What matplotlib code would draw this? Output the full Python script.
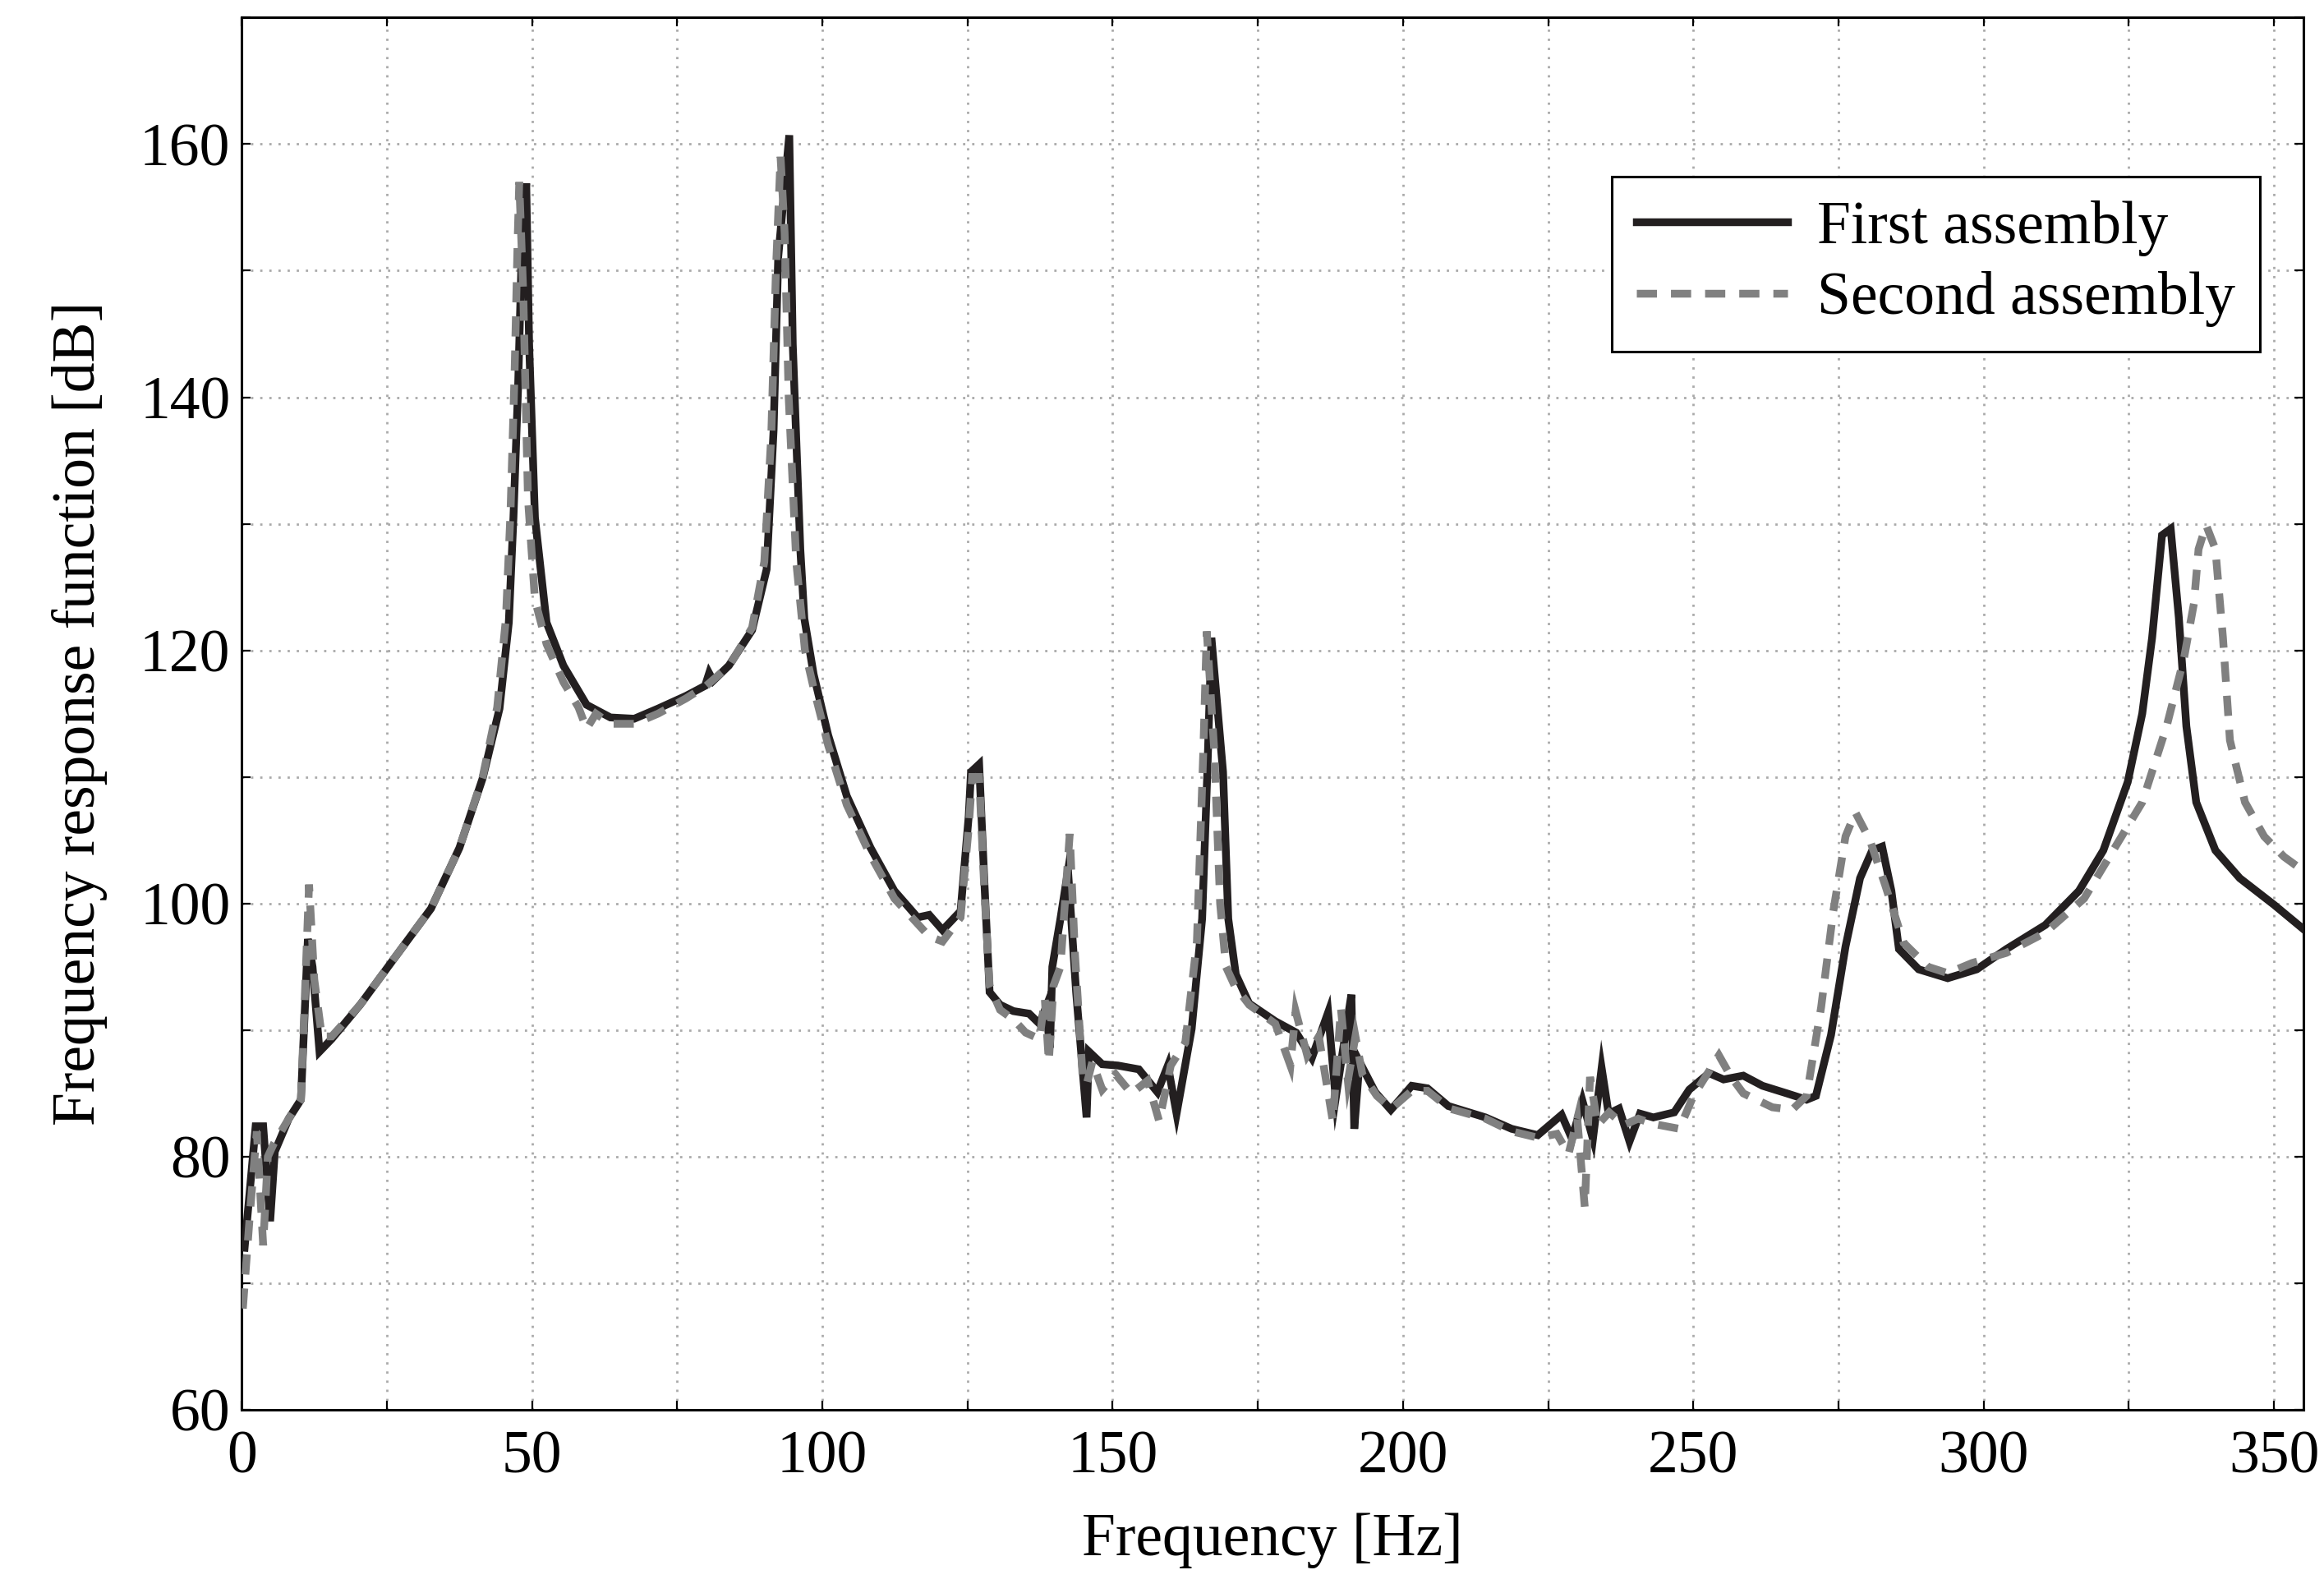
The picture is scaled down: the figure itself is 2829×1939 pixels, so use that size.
import matplotlib.pyplot as plt
from matplotlib.ticker import MultipleLocator

# Curva della prima configurazione di montaggio
freq_first = [0.5, 2.4, 3.7, 4.9, 5.7, 8.1, 10.2, 11.4, 12.2, 13.4, 15.5, 20.4, 26.0, 32.6,
              37.5, 41.5, 44.4, 46.0, 46.8, 47.6, 48.2, 49.0, 49.5, 50.5, 52.5, 55.4, 59.4,
              63.5, 67.6, 71.7, 76.5, 79.8, 80.5, 81.2, 83.9, 87.9, 90.4, 91.6, 92.4, 94.3,
              94.9, 96.2, 96.9, 98.5, 101.0, 104.2, 108.3, 112.4, 116.4, 118.4, 120.7,
              123.8, 125.2, 125.6, 127.0, 127.9, 128.8, 130.6, 132.9, 135.6, 137.4, 138.5,
              139.2, 139.6, 141.0, 142.3, 143.7, 145.5, 145.9, 148.2, 150.9, 154.5, 157.7,
              159.5, 161.0, 163.6, 165.4, 166.3, 167.0, 169.0, 169.9, 171.2, 173.5, 178.0,
              181.6, 184.3, 187.1, 188.4, 190.2, 191.1, 191.6, 192.5, 195.2, 197.9, 201.5,
              204.2, 207.8, 214.2, 218.7, 223.2, 227.3, 229.1, 230.9, 232.7, 234.2, 235.4,
              237.2, 239.0, 240.8, 243.1, 246.7, 249.3, 252.7, 255.2, 258.6, 261.9, 266.1,
              269.5, 271.1, 273.7, 276.2, 278.7, 280.8, 282.5, 284.1, 285.4, 288.8, 293.8,
              298.8, 303.9, 310.6, 316.4, 320.6, 324.8, 327.3, 329.0, 330.7, 332.2, 333.6,
              334.9, 336.6, 339.9, 344.1, 350.0, 355.0]
frf_first = [72.8, 82.4, 82.4, 74.9, 80.4, 83.0, 84.5, 97.2, 95.0, 88.3, 89.3, 92.0, 95.5, 99.6,
             104.4, 109.9, 115.4, 122.2, 130.5, 140.8, 151.0, 156.9, 144.2, 130.5, 122.2,
             118.8, 115.7, 114.7, 114.6, 115.4, 116.4, 117.2, 118.2, 117.6, 118.8, 121.6,
             126.4, 137.4, 151.1, 160.7, 144.2, 128.0, 122.5, 118.1, 113.3, 108.5, 104.4,
             101.0, 98.9, 99.1, 97.9, 99.4, 106.9, 110.4, 111.0, 101.7, 93.0, 92.0, 91.5,
             91.3, 90.5, 91.8, 88.6, 95.0, 98.8, 102.6, 93.0, 83.1, 88.3, 87.3, 87.2, 86.9,
             85.1, 87.2, 83.4, 90.1, 98.8, 110.4, 121.0, 110.4, 98.8, 94.4, 92.1, 90.7, 89.8,
             87.8, 91.4, 84.6, 90.1, 92.8, 82.2, 87.5, 85.1, 83.7, 85.6, 85.4, 84.0, 83.1,
             82.2, 81.7, 83.3, 81.4, 84.4, 81.4, 87.0, 83.4, 83.8, 81.2, 83.4, 83.1, 83.5,
             85.3, 86.6, 86.1, 86.4, 85.6, 85.0, 84.5, 84.8, 89.6, 96.6, 102.0, 104.2, 104.5,
             101.0, 96.4, 94.8, 94.1, 94.8, 96.4, 98.3, 101.0, 104.2, 109.6, 115.0, 121.0,
             129.1, 129.6, 122.6, 114.0, 108.0, 104.2, 102.0, 99.9, 98.0]

# Curva della seconda configurazione di montaggio
freq_second = [0.2, 1.5, 2.6, 3.7, 4.5, 5.5, 8.1, 10.2, 11.6, 12.5, 13.8, 15.5, 20.4, 26.0,
               32.6, 37.5, 41.5, 44.0, 45.5, 46.3, 47.0, 47.5, 47.8, 48.5, 49.3, 50.5, 52.5,
               55.4, 58.0, 59.4, 61.0, 63.5, 67.6, 71.7, 76.5, 80.0, 84.0, 87.9, 90.0, 91.2,
               92.0, 92.8, 93.5, 94.2, 95.5, 97.0, 98.5, 101.0, 104.2, 108.3, 112.4, 116.4,
               118.4, 120.7, 123.8, 125.2, 125.8, 127.0, 127.9, 128.8, 130.6, 133.0, 135.0,
               137.4, 138.3, 139.0, 139.8, 141.0, 142.6, 143.5, 144.8, 145.5, 146.5, 148.2,
               150.5, 153.2, 156.0, 158.0, 160.0, 162.5, 164.5, 165.6, 166.2, 167.5, 168.5,
               169.5, 171.0, 173.5, 178.0, 180.6, 181.5, 183.5, 185.5, 187.9, 189.3, 190.5,
               191.8, 193.0, 195.5, 198.0, 201.5, 204.2, 208.0, 214.2, 218.7, 223.2, 226.5,
               228.5, 230.0, 231.3, 232.2, 233.5, 235.5, 238.0, 240.5, 243.0, 247.6, 250.0,
               254.4, 256.5, 258.6, 263.6, 267.0, 269.5, 272.0, 274.1, 276.2, 277.9, 280.4,
               283.0, 286.2, 290.4, 293.8, 298.0, 303.9, 310.6, 317.3, 322.3, 327.3, 331.5,
               334.5, 336.2, 337.0, 338.3, 339.9, 341.2, 342.4, 345.0, 348.3, 351.7, 355.0]
frf_second = [68.0, 76.0, 82.0, 73.0, 80.0, 81.0, 83.0, 84.5, 101.5, 94.0, 89.5, 89.5, 92.0,
              95.5, 99.6, 104.4, 110.0, 115.5, 122.5, 131.0, 142.0, 152.0, 157.0, 148.0,
              132.0, 124.0, 120.5, 117.5, 115.5, 113.8, 115.0, 114.2, 114.2, 115.0, 116.2,
              117.2, 118.8, 121.8, 127.0, 137.0, 150.0, 159.0, 153.0, 140.0, 127.0, 120.0,
              117.0, 112.5, 107.8, 103.8, 100.4, 98.4, 97.4, 97.0, 98.9, 106.0, 110.0, 110.0,
              101.0, 93.5, 91.6, 90.8, 89.8, 89.3, 92.5, 87.5, 93.5, 95.0, 105.5, 96.0, 86.5,
              85.7, 87.5, 85.3, 86.5, 85.0, 86.0, 82.8, 87.2, 89.0, 97.0, 112.0, 121.5, 112.0,
              100.0, 95.0, 93.5, 92.0, 90.5, 87.2, 91.5, 88.0, 89.5, 82.8, 91.7, 86.0, 89.5,
              86.5, 84.8, 83.8, 85.2, 85.2, 83.8, 83.0, 82.0, 81.5, 81.8, 80.2, 83.0, 76.0,
              86.3, 82.5, 83.5, 82.5, 83.0, 82.6, 82.2, 84.8, 88.0, 86.3, 85.0, 83.9, 83.7,
              84.8, 91.8, 99.4, 105.3, 107.2, 105.0, 101.5, 96.9, 95.0, 94.5, 95.3, 96.1,
              97.7, 100.4, 104.2, 108.0, 114.0, 119.4, 123.7, 128.0, 129.9, 128.0, 121.0,
              112.9, 108.0, 105.3, 103.7, 102.6]

plt.rcParams['font.family'] = ['Liberation Serif', 'DejaVu Serif']
plt.rcParams['font.size'] = 26.5

fig = plt.figure(figsize=(14.145, 9.695), dpi=200)
ax = fig.add_axes([0.104, 0.115, 0.887, 0.874])

ax.plot(freq_first, frf_first, color='#231f20', linewidth=3.4,
        solid_joinstyle='miter', label='First assembly', zorder=3)
ax.plot(freq_second, frf_second, color='#808080', linewidth=3.4, linestyle=(0, (2.6, 1.8)),
        dash_joinstyle='miter', label='Second assembly', zorder=4)

ax.set_xlim(0, 355)
ax.set_ylim(60, 170)
ax.xaxis.set_major_locator(MultipleLocator(50))
ax.xaxis.set_minor_locator(MultipleLocator(25))
ax.yaxis.set_major_locator(MultipleLocator(20))
ax.yaxis.set_minor_locator(MultipleLocator(10))
ax.grid(True, which='both', color='#aaaaaa', linestyle=(0, (1, 3)), linewidth=1.0)
ax.tick_params(which='both', direction='in', top=True, right=True, width=0.8)
ax.tick_params(axis='y', pad=5)
ax.tick_params(axis='x', pad=9)
ax.tick_params(which='major', length=4)
ax.tick_params(which='minor', length=4)
for s in ax.spines.values():
    s.set_linewidth(1.1)

ax.set_xlabel('Frequency [Hz]', labelpad=12)
ax.set_ylabel('Frequency response function [dB]', labelpad=14)

leg = ax.legend(loc='upper right', bbox_to_anchor=(0.979, 0.886), borderaxespad=0,
                fancybox=False, edgecolor='black', framealpha=1, handlelength=2.5,
                borderpad=0.4, labelspacing=0.25, handletextpad=0.5)
leg.get_frame().set_linewidth(1.1)

fig.savefig('out.png', dpi=200)
